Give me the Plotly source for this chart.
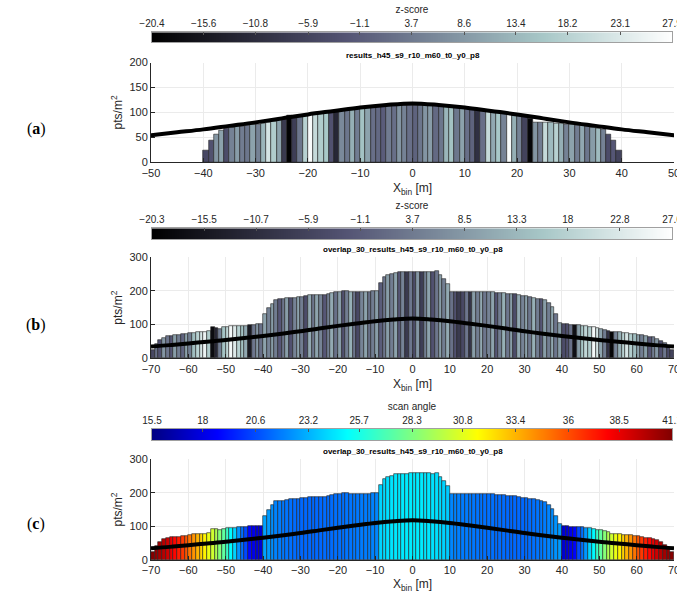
import plotly.graph_objects as go

# ---------------- data ----------------
# panel (a): 1 m bins from -40 to 40
bins_a = list(range(-40, 40))
heights_a = [23, 43, 55, 63, 67, 69, 71, 72, 73, 75,
             76, 77, 79, 81, 83, 85, 94, 89, 91, 93,
             96, 98, 98, 99, 100, 102, 103, 105, 105, 107,
             108, 109, 110, 111, 111, 112, 113, 113, 113, 114,
             114, 114, 113, 113, 113, 112, 111, 110, 109, 108,
             107, 106, 104, 102, 101, 100, 99, 97, 95, 94,
             93, 91, 87, 79, 79, 80, 79, 78, 77, 76,
             75, 74, 73, 71, 70, 68, 66, 55, 43, 23]
zscore_a = [-5, -3, 8, 10, -4, 5, 9, 4, 3, 10,
            5, 13, 22, 17, 10, -8, -20, -7, 3, 18,
            27, 20, 17, 16, -3, -12, 6, 3, 12, 4,
            15, 10, 2, 1, -1, 4, 2, 8, 5, 2,
            0, 3, 8, 9, 1, 3, 13, 15, 3, 10,
            2, 0, -10, 2, 20, 11, 16, 5, 27, 12,
            5, -6, -19, 8, 4, 20, 14, 18, 12, 5,
            10, 4, 11, 3, 9, 14, 5, -4, -2, -6]

# panels (b) and (c): 1 m bins from -70 to 70
bins_bc = list(range(-70, 70))
heights_bc = [24, 41, 53, 61, 65, 67, 68, 69, 71, 72,
              74, 76, 77, 78, 78, 81, 93, 91, 88, 92,
              94, 95, 96, 97, 97, 97, 100, 100, 101, 102,
              130, 150, 162, 174, 175, 176, 178, 180, 180, 182,
              183, 185, 187, 188, 188, 187, 188, 190, 192, 195,
              197, 198, 198, 197, 197, 197, 196, 197, 197, 198,
              198, 222, 242, 247, 251, 254, 255, 256, 256, 257,
              257, 257, 257, 257, 257, 256, 258, 247, 234, 219,
              197, 197, 196, 196, 197, 197, 196, 197, 197, 196,
              195, 195, 194, 193, 192, 191, 190, 189, 187, 185,
              184, 182, 180, 177, 175, 172, 164, 152, 132, 106,
              102, 101, 99, 99, 98, 97, 96, 94, 92, 90,
              88, 85, 82, 78, 77, 77, 75, 74, 73, 71,
              70, 68, 66, 64, 62, 58, 52, 44, 34, 24]
zscore_b = [-5, 2, -3, 8, 3, -2, 9, 4, 0, 10,
            4, 14, 18, 22, 25, 17, -18, -12, 4, 15,
            19, 26, 23, 18, 15, 11, -15, 3, 8, 2,
            10, 5, 9, 4, -2, 3, 9, -3, 5, 10,
            4, -4, 11, 3, 10, 5, -2, 4, 11, 2,
            9, -3, 4, 12, 3, -5, 5, 10, 2, 4,
            9, -1, 3, 9, 4, 10, -2, 5, -8, 3,
            -4, 8, -7, 4, 10, -3, 3, 9, 4, 11,
            2, -3, -8, -5, 3, -9, 9, 4, 11, 3,
            5, 10, -2, 4, 12, 3, 9, -4, 11, 5,
            10, 3, 12, 4, -2, 9, 4, 11, 3, 9,
            -4, -3, 2, -17, 9, 16, 19, 17, 26, 22,
            10, 4, -9, -19, 5, 12, 18, 22, 17, 14,
            10, 4, 9, -2, 4, 8, -3, 3, -4, -6]
scan_angle_c = [41.0, 40.6, 40.2, 39.7, 39.1, 38.4, 37.8, 37.2, 36.5, 35.8,
                35.0, 34.2, 33.4, 32.6, 31.8, 31.0, 30.3, 29.5, 28.5, 27.5,
                26.5, 25.0, 24.0, 22.5, 21.5, 20.5, 18.8, 18.2, 17.8, 17.6,
                22.8, 22.6, 22.3, 22.0, 21.8, 21.7, 21.6, 21.5, 21.4, 21.4,
                21.3, 21.3, 21.3, 21.3, 21.3, 21.3, 21.4, 21.4, 21.4, 21.5,
                21.5, 21.5, 21.6, 21.6, 21.7, 21.7, 21.8, 21.8, 21.9, 22.0,
                22.1, 24.0, 24.2, 24.3, 24.4, 24.5, 24.5, 24.6, 24.6, 24.6,
                24.6, 24.6, 24.6, 24.5, 24.5, 24.4, 24.3, 24.2, 24.0, 23.8,
                22.1, 22.0, 21.9, 21.8, 21.8, 21.7, 21.7, 21.6, 21.6, 21.5,
                21.5, 21.5, 21.4, 21.4, 21.4, 21.3, 21.3, 21.3, 21.3, 21.3,
                21.4, 21.4, 21.5, 21.6, 21.7, 21.8, 22.0, 22.2, 22.4, 22.6,
                17.6, 17.8, 18.2, 18.8, 20.5, 21.5, 22.5, 24.0, 25.0, 26.5,
                27.5, 28.5, 29.5, 30.3, 31.0, 31.8, 32.6, 33.4, 34.2, 35.0,
                35.8, 36.5, 37.2, 37.8, 38.4, 39.1, 39.7, 40.2, 40.6, 41.0]

# reference density curve (read every 5 m)
curve_x = [-70, -65, -60, -55, -50, -45, -40, -35, -30, -25, -20, -15, -10, -5, 0,
           5, 10, 15, 20, 25, 30, 35, 40, 45, 50, 55, 60, 65, 70]
curve_y = [35, 39, 44, 49, 54, 60, 66, 73, 80, 88, 96, 103, 110, 115, 118,
           115, 110, 103, 96, 88, 80, 73, 66, 60, 54, 49, 44, 39, 35]

# colour bar tick labels
cb_ticks_a = ["-20.4", "-15.6", "-10.8", "-5.9", "-1.1", "3.7", "8.6", "13.4", "18.2", "23.1", "27.9"]
cb_ticks_b = ["-20.3", "-15.5", "-10.7", "-5.9", "-1.1", "3.7", "8.5", "13.3", "18", "22.8", "27.6"]
cb_ticks_c = ["15.5", "18", "20.6", "23.2", "25.7", "28.3", "30.8", "33.4", "36", "38.5", "41.1"]

titles = ["results_h45_s9_r10_m60_t0_y0_p8",
          "overlap_30_results_h45_s9_r10_m60_t0_y0_p8",
          "overlap_30_results_h45_s9_r10_m60_t0_y0_p8"]
panel_labels = ["a", "b", "c"]
cb_titles = ["z-score", "z-score", "scan angle"]

# ---------------- styling ----------------
BONE = [[0.0, "rgb(0,0,0)"], [0.375, "rgb(84,84,116)"],
        [0.75, "rgb(167,199,199)"], [1.0, "rgb(255,255,255)"]]
JET = [[0.0, "rgb(0,0,131)"], [0.125, "rgb(0,0,255)"], [0.375, "rgb(0,255,255)"],
       [0.625, "rgb(255,255,0)"], [0.875, "rgb(255,0,0)"], [1.0, "rgb(128,0,0)"]]

W, H = 677, 593
FONT = "Liberation Sans, Arial, sans-serif"
TXT = "#262626"


def fx(p):
    return p / W


def fy(p):
    return 1 - p / H


x_dom = [fx(151), fx(674)]
cb_dom = [fx(152), fx(672)]
# (top px, bottom px) of plot areas and colour bars
plot_px = [(62.5, 162.3), (257.0, 358.3), (459.0, 560.0)]
cb_px = [(32.3, 42.3), (228.3, 239.0), (429.0, 440.0)]
letter_y = [129, 325, 524]

fig = go.Figure()

x_a = [b + 0.5 for b in bins_a]
x_bc = [b + 0.5 for b in bins_bc]

panels = [
    dict(x=x_a, h=heights_a, c=zscore_a, cs=BONE, ticks=cb_ticks_a, xr=[-50, 50],
         yr=[0, 200], ytv=[0, 50, 100, 150, 200]),
    dict(x=x_bc, h=heights_bc, c=zscore_b, cs=BONE, ticks=cb_ticks_b, xr=[-70, 70],
         yr=[0, 300], ytv=[0, 100, 200, 300]),
    dict(x=x_bc, h=heights_bc, c=scan_angle_c, cs=JET, ticks=cb_ticks_c, xr=[-70, 70],
         yr=[0, 300], ytv=[0, 100, 200, 300]),
]

annotations = []
for i, p in enumerate(panels):
    n = i + 1
    xa = "x" if n == 1 else f"x{n}"
    ya = "y" if n == 1 else f"y{n}"
    cbn = n + 3
    cmin = float(p["ticks"][0])
    cmax = float(p["ticks"][-1])

    fig.add_trace(go.Bar(
        x=p["x"], y=p["h"], width=1, xaxis=xa, yaxis=ya,
        marker=dict(color=p["c"], colorscale=p["cs"], cmin=cmin, cmax=cmax,
                    line=dict(color="#1e1e1e", width=0.6)),
        showlegend=False, hoverinfo="skip"))
    fig.add_trace(go.Scatter(
        x=curve_x, y=curve_y, mode="lines", xaxis=xa, yaxis=ya,
        line=dict(color="black", width=4, shape="spline"),
        showlegend=False, hoverinfo="skip"))
    # colour bar drawn as a smooth heatmap on its own axis
    fig.add_trace(go.Heatmap(
        z=[[cmin, cmax]], x=[cmin, cmax], y=[0], zsmooth="best",
        colorscale=p["cs"], zmin=cmin, zmax=cmax, showscale=False,
        xaxis=f"x{cbn}", yaxis=f"y{cbn}", hoverinfo="skip"))

    top, bot = plot_px[i]
    xstep = 10
    fig.update_layout(**{
        f"xaxis{'' if n == 1 else n}": dict(
            domain=x_dom, anchor=ya, range=p["xr"],
            tickvals=list(range(p["xr"][0], p["xr"][1] + 1, xstep)),
            ticks="inside", ticklen=4, tickcolor=TXT, showline=True, linecolor=TXT,
            linewidth=1, showgrid=True, gridcolor="#ebebeb", zeroline=False,
            tickfont=dict(size=11, color=TXT, family=FONT), automargin=False,
            ticklabeloverflow="allow",
            title=dict(text="X<sub>bin</sub> [m]", font=dict(size=12, color=TXT, family=FONT),
                       standoff=6)),
        f"yaxis{'' if n == 1 else n}": dict(
            domain=[fy(bot), fy(top)], anchor=xa, range=p["yr"], tickvals=p["ytv"],
            ticks="inside", ticklen=4, tickcolor=TXT, showline=True, linecolor=TXT,
            linewidth=1, showgrid=True, gridcolor="#ebebeb", zeroline=False,
            tickfont=dict(size=11, color=TXT, family=FONT), automargin=False,
            ticklabeloverflow="allow",
            title=dict(text="pts/m<sup>2</sup>", font=dict(size=12, color=TXT, family=FONT),
                       standoff=4)),
    })
    ctop, cbot = cb_px[i]
    fig.update_layout(**{
        f"xaxis{cbn}": dict(
            domain=cb_dom, anchor=f"y{cbn}", side="top", range=[cmin, cmax],
            tickvals=[float(t) for t in p["ticks"]],
            ticktext=[t.replace("-", "\u2212") for t in p["ticks"]],
            ticks="inside", ticklen=3, tickcolor="#555", showline=True, linecolor="#a0a0a0",
            mirror=True, showgrid=False, zeroline=False, automargin=False,
            ticklabeloverflow="allow",
            tickfont=dict(size=10, color=TXT, family=FONT),
            title=dict(text=cb_titles[i], font=dict(size=10, color=TXT, family=FONT),
                       standoff=2)),
        f"yaxis{cbn}": dict(
            domain=[fy(cbot), fy(ctop)], anchor=f"x{cbn}", range=[-0.5, 0.5],
            showline=True, linecolor="#a0a0a0", mirror=True, showticklabels=False,
            ticks="", showgrid=False, zeroline=False, automargin=False),
    })
    annotations.append(dict(
        text=f"<b>{titles[i]}</b>", x=(x_dom[0] + x_dom[1]) / 2, y=fy(top),
        xref="paper", yref="paper", xanchor="center", yanchor="bottom", yshift=1,
        showarrow=False, font=dict(size=8, color="black", family=FONT)))
    annotations.append(dict(
        text=f"(<b>{panel_labels[i]}</b>)", x=fx(36), y=fy(letter_y[i]),
        xref="paper", yref="paper", xanchor="center", yanchor="middle",
        showarrow=False, font=dict(size=16, color="black",
                                   family="Liberation Serif, DejaVu Serif, serif")))

fig.update_layout(
    width=W, height=H, margin=dict(l=0, r=0, t=0, b=0),
    paper_bgcolor="white", plot_bgcolor="white", bargap=0,
    font=dict(family=FONT, color=TXT), annotations=annotations,
)

fig.write_html("out.html")
